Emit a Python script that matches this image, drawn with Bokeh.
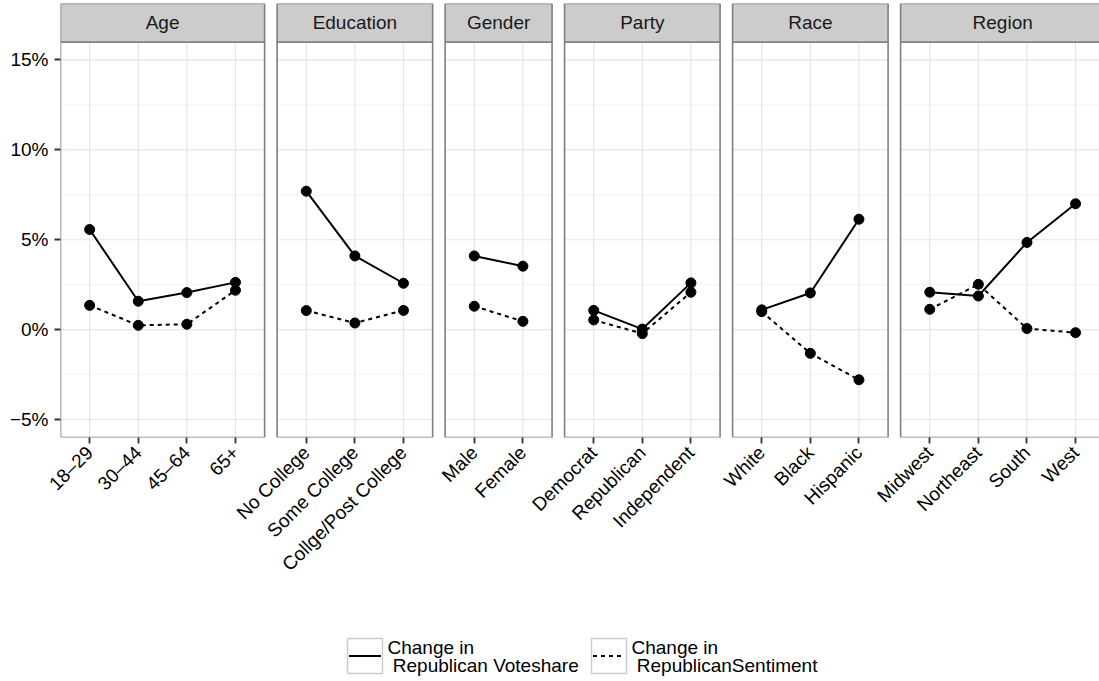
from math import pi

from bokeh.core.properties import value
from bokeh.embed import file_html
from bokeh.layouts import column
from bokeh.models import ColumnDataSource, FixedTicker, Range1d
from bokeh.plotting import figure
from bokeh.resources import INLINE

FONT = "Liberation Sans"

# ---- data -------------------------------------------------------------
facets = ["Age", "Education", "Gender", "Party", "Race", "Region"]

age_groups = ["18–29", "30–44", "45–64", "65+"]
education_levels = ["No College", "Some College", "Collge/Post College"]
genders = ["Male", "Female"]
parties = ["Democrat", "Republican", "Independent"]
races = ["White", "Black", "Hispanic"]
regions = ["Midwest", "Northeast", "South", "West"]

# change in Republican voteshare, percentage points
voteshare_age = [5.57, 1.58, 2.06, 2.63]
voteshare_education = [7.70, 4.10, 2.58]
voteshare_gender = [4.10, 3.53]
voteshare_party = [1.07, 0.03, 2.60]
voteshare_race = [1.10, 2.04, 6.14]
voteshare_region = [2.08, 1.87, 4.85, 7.00]

# change in Republican sentiment, percentage points
sentiment_age = [1.35, 0.24, 0.30, 2.19]
sentiment_education = [1.06, 0.37, 1.07]
sentiment_gender = [1.30, 0.46]
sentiment_party = [0.54, -0.22, 2.08]
sentiment_race = [1.00, -1.32, -2.79]
sentiment_region = [1.13, 2.52, 0.06, -0.17]

series_labels = ["Change in\n Republican Voteshare", "Change in\n RepublicanSentiment"]
series_dash = ["solid", "4 4"]

y_ticks = [-5, 0, 5, 10, 15]
y_minor = [-2.5, 2.5, 7.5, 12.5]

panels = [
    (facets[0], age_groups, voteshare_age, sentiment_age),
    (facets[1], education_levels, voteshare_education, sentiment_education),
    (facets[2], genders, voteshare_gender, sentiment_gender),
    (facets[3], parties, voteshare_party, sentiment_party),
    (facets[4], races, voteshare_race, sentiment_race),
    (facets[5], regions, voteshare_region, sentiment_region),
]

# ---- layout constants --------------------------------------------------
PX_PER_UNIT = 48.6      # horizontal pixels per category step
PX_PER_PCT = 17.98      # vertical pixels per percentage point
EXPAND = 0.6            # discrete axis expansion on each side of a panel
GAP = 12.5 / PX_PER_UNIT
Y_LO, Y_HI = -6.0, 16.0
STRIP_PX = 38.5
Y_TOP = Y_HI + STRIP_PX / PX_PER_PCT

W, H_MAIN, H_LEG = 1099, 620, 61
LEFT, TOP = 60, 3
FRAME_W = W - LEFT
X0 = 1 - EXPAND

p = figure(
    width=W, height=H_MAIN, title=None,
    x_range=Range1d(X0, X0 + FRAME_W / PX_PER_UNIT),
    y_range=Range1d(Y_LO, Y_TOP),
    min_border_left=LEFT, min_border_right=0, min_border_top=TOP, min_border_bottom=183,
    toolbar_location=None, output_backend="svg",
)
p.xgrid.visible = False
p.ygrid.visible = False
p.outline_line_color = None
p.background_fill_color = "white"
p.border_fill_color = "white"

# ---- build panels -----------------------------------------------------
tick_x, tick_labels = [], []
grid_x0, grid_x1, grid_y0, grid_y1 = [], [], [], []
minor_x0, minor_x1, minor_y = [], [], []
pan_l, pan_r, strip_cx = [], [], []
lines = []

left = X0
for name, cats, vs, ss in panels:
    n = len(cats)
    xs = [round(left + EXPAND + i, 6) for i in range(n)]
    right = left + (n - 1) + 2 * EXPAND
    tick_x += xs
    tick_labels += cats
    for yv in y_ticks:
        grid_x0.append(left); grid_x1.append(right); grid_y0.append(yv); grid_y1.append(yv)
    for xv in xs:
        grid_x0.append(xv); grid_x1.append(xv); grid_y0.append(Y_LO); grid_y1.append(Y_HI)
    for yv in y_minor:
        minor_x0.append(left); minor_x1.append(right); minor_y.append(yv)
    pan_l.append(left); pan_r.append(right); strip_cx.append((left + right) / 2)
    lines.append((xs, vs, ss))
    left = right + GAP

p.segment(x0=minor_x0, x1=minor_x1, y0=minor_y, y1=minor_y, line_color="#f5f5f5", line_width=1.2)
p.segment(x0=grid_x0, x1=grid_x1, y0=grid_y0, y1=grid_y1, line_color="#e5e5e5", line_width=1.2)

# panel borders and facet strips
p.quad(left=pan_l, right=pan_r, bottom=Y_LO, top=Y_HI, fill_color=None,
       line_color="#7f7f7f", line_width=1.6)
p.quad(left=pan_l, right=pan_r, bottom=Y_HI, top=Y_TOP, fill_color="#cccccc",
       line_color="#7f7f7f", line_width=1.6)
p.text(x=strip_cx, y=[(Y_HI + Y_TOP) / 2] * len(facets), text=facets,
       text_font=value(FONT), text_font_size="19px", text_color="#1a1a1a",
       text_align="center", text_baseline="middle")

# series lines and points
for xs, vs, ss in lines:
    for vals, dash in zip((vs, ss), series_dash):
        src = ColumnDataSource(dict(x=xs, y=vals))
        p.line("x", "y", source=src, line_color="black", line_width=2, line_dash=dash)
        p.scatter("x", "y", source=src, size=10, color="black")

# axes
p.xaxis.ticker = FixedTicker(ticks=tick_x)
p.xaxis.major_label_overrides = dict(zip(tick_x, tick_labels))
p.xaxis.major_label_orientation = pi / 4
p.yaxis.ticker = FixedTicker(ticks=y_ticks)
p.yaxis.major_label_overrides = {t: f"{t}%".replace("-", "−") for t in y_ticks}
for ax in (p.xaxis, p.yaxis):
    ax.axis_line_color = None
    ax.major_tick_in = 0
    ax.major_tick_out = 6
    ax.major_tick_line_color = "#333333"
    ax.major_tick_line_width = 1.8
    ax.minor_tick_line_color = None
    ax.major_label_text_font = FONT
    ax.major_label_text_font_size = "19px"
    ax.major_label_text_color = "black"
    ax.major_label_standoff = 6

# ---- legend -----------------------------------------------------------
# the column lines this plot's frame up with the main frame, so the
# x range is given in page pixels from LEFT to W
lg = figure(
    width=W, height=H_LEG, title=None,
    x_range=Range1d(LEFT, W), y_range=Range1d(H_LEG, 0),
    x_axis_location=None, y_axis_location=None,
    min_border=0, min_border_left=LEFT, min_border_right=0,
    toolbar_location=None, output_backend="svg",
)
lg.xgrid.visible = False
lg.ygrid.visible = False
lg.outline_line_color = None

key_left = [347, 591]
KEY = 35
KEY_TOP = 18
SPACE_W = 5.3
line_mid = [26.5, 45.2]
for kx, label, dash in zip(key_left, series_labels, series_dash):
    lg.quad(left=kx, right=kx + KEY, top=KEY_TOP, bottom=KEY_TOP + KEY,
            fill_color="white", line_color="#cccccc", line_width=1.5)
    lg.line(x=[kx + 1.5, kx + KEY - 1.5], y=[KEY_TOP + KEY / 2] * 2,
            line_color="black", line_width=2, line_dash=dash)
    parts = label.split("\n")
    tx = [kx + KEY + 5 + SPACE_W * (len(s) - len(s.lstrip(" "))) for s in parts]
    lg.text(x=tx, y=line_mid[:len(parts)], text=[s.strip() for s in parts],
            text_font=value(FONT), text_font_size="19px",
            text_color="black", text_align="left", text_baseline="middle")

layout = column(p, lg, spacing=0)
open("out.html", "w").write(file_html(layout, INLINE))
